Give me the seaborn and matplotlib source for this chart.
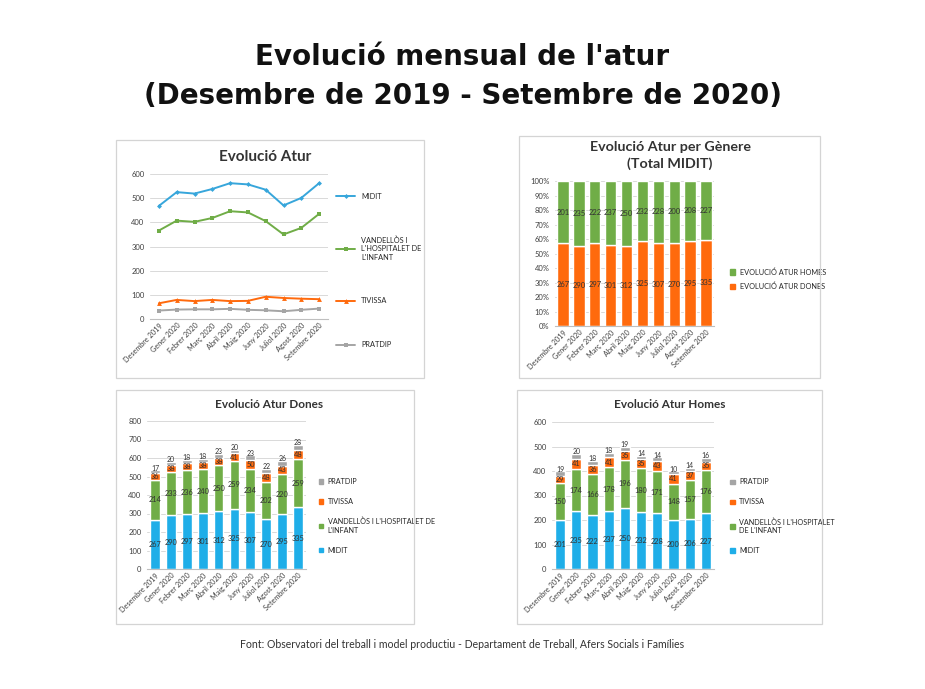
import numpy as np
import pandas as pd
import matplotlib
matplotlib.use("Agg")
import matplotlib.pyplot as plt
from matplotlib.patches import Rectangle
from matplotlib.lines import Line2D
import seaborn as sns

# Months shown on every chart
months = ["Desembre 2019", "Gener 2020", "Febrer 2020", "Març 2020", "Abril 2020",
          "Maig 2020", "Juny 2020", "Juliol 2020", "Agost 2020", "Setembre 2020"]

# Evolució Atur (totals)
total_midit = [468, 525, 519, 538, 562, 557, 535, 470, 501, 562]
total_vandellos = [366, 407, 402, 418, 446, 441, 405, 350, 377, 435]
total_tivissa = [65, 79, 74, 79, 74, 75, 92, 87, 84, 82]
total_pratdip = [35, 39, 40, 40, 42, 38, 36, 32, 38, 43]

# Evolució Atur Dones
dones_midit = [267, 290, 297, 301, 312, 325, 307, 270, 295, 335]
dones_vandellos = [214, 233, 236, 240, 250, 259, 234, 202, 220, 259]
dones_tivissa = [36, 38, 38, 38, 38, 41, 50, 48, 43, 48]
dones_pratdip = [17, 20, 18, 18, 23, 20, 23, 22, 26, 28]

# Evolució Atur Homes
homes_midit = [201, 235, 222, 237, 250, 232, 228, 200, 206, 227]
homes_vandellos = [150, 174, 166, 178, 196, 180, 171, 148, 157, 176]
homes_tivissa = [29, 41, 36, 41, 35, 35, 43, 41, 37, 35]
homes_pratdip = [19, 20, 18, 18, 19, 14, 14, 10, 14, 16]

# Evolució Atur per Gènere (Total MIDIT)
genere_dones = [267, 290, 297, 301, 312, 325, 307, 270, 295, 335]
genere_homes = [201, 235, 222, 237, 250, 232, 228, 200, 208, 227]

BLUE = "#1FAEE8"
LINE_BLUE = "#37A6DB"
GREEN = "#70AD47"
ORANGE = "#FF6A0D"
GRAY = "#A5A5A5"

sns.set_style("white")
plt.rcParams["font.family"] = ["Lato", "DejaVu Sans"]

W, H = 925, 689
fig = plt.figure(figsize=(W / 100, H / 100), dpi=100)
fig.patch.set_facecolor("white")


def px_axes(l, t, r, b):
    return fig.add_axes([l / W, 1 - b / H, (r - l) / W, (b - t) / H])


def panel(l, t, r, b):
    fig.patches.append(Rectangle((l / W, 1 - b / H), (r - l) / W, (b - t) / H,
                                 transform=fig.transFigure, fill=False,
                                 edgecolor="#d4d4d4", lw=0.9))


def style_axes(ax, ymax, step, pct=False):
    ax.set_ylim(0, ymax)
    ax.set_yticks(np.arange(0, ymax + step / 2, step))
    if pct:
        ax.set_yticklabels([f"{int(round(v * 100))}%" for v in ax.get_yticks()])
    ax.yaxis.grid(True, color="#d9d9d9", lw=0.7)
    ax.set_axisbelow(True)
    for s in ["top", "right", "left"]:
        ax.spines[s].set_visible(False)
    ax.spines["bottom"].set_color("#bfbfbf")
    ax.tick_params(axis="y", labelsize=5.5, length=0, pad=4, colors="#404040")
    ax.tick_params(axis="x", labelsize=5.2, length=0, pad=2, colors="#404040")
    for lab in ax.get_xticklabels():
        lab.set_rotation(45)
        lab.set_ha("right")
        lab.set_rotation_mode("anchor")
    ax.set_xlabel("")
    ax.set_ylabel("")


# Main title and footer
fig.text(0.5, 1 - 57 / H, "Evolució mensual de l'atur", ha="center", va="center",
         fontsize=20, fontweight="bold", family="DejaVu Sans", color="#111111")
fig.text(0.5, 1 - 96 / H, "(Desembre de 2019 - Setembre de 2020)", ha="center", va="center",
         fontsize=20, fontweight="bold", family="DejaVu Sans", color="#111111")
fig.text(0.5, 1 - 645 / H,
         "Font: Observatori del treball i model productiu - Departament de Treball, Afers Socials i Famílies",
         ha="center", va="center", fontsize=7.6, color="#333333")

# Panel frames
panel(116, 140, 424, 378)
panel(519, 136, 820, 378)
panel(116, 390, 414, 624)
panel(517, 390, 822, 624)

# ---- Evolució Atur (lines)
ax1 = px_axes(150, 174, 328, 319)
df_tot = pd.DataFrame({"mes": months, "MIDIT": total_midit,
                       "VANDELLÒS I\nL'HOSPITALET DE\nL'INFANT": total_vandellos,
                       "TIVISSA": total_tivissa, "PRATDIP": total_pratdip})
line_styles = [("MIDIT", LINE_BLUE, "D", 2.5), ("VANDELLÒS I\nL'HOSPITALET DE\nL'INFANT", GREEN, "s", 3.5),
               ("TIVISSA", ORANGE, "^", 3.5), ("PRATDIP", GRAY, "s", 3)]
handles = []
for name, col, mk, ms in line_styles:
    sns.lineplot(data=df_tot, x="mes", y=name, color=col, marker=mk, markersize=ms,
                 markeredgewidth=0, lw=1.4, sort=False, ax=ax1)
    handles.append(Line2D([], [], color=col, marker=mk, markersize=ms, markeredgewidth=0, lw=1.4))
ax1.set_xlim(-0.5, len(months) - 0.5)
style_axes(ax1, 600, 100)
ax1.legend(handles, [s[0] for s in line_styles], loc="upper left", bbox_to_anchor=(1.03, 0.89),
           frameon=False, fontsize=5.3, labelspacing=5.0, handlelength=2.6, borderaxespad=0)
fig.text(265 / W, 1 - 157 / H, "Evolució Atur", ha="center", va="center",
         fontsize=11, fontweight="bold", color="#333333")

# ---- Evolució Atur per Gènere (100% stacked)
ax2 = px_axes(555, 181, 714, 326)
tot_g = np.array(genere_dones) + np.array(genere_homes)
pct_d = np.array(genere_dones) / tot_g
pct_h = np.array(genere_homes) / tot_g
sns.barplot(x=months, y=pct_d, color=ORANGE, width=0.72, saturation=1, ax=ax2)
sns.barplot(x=months, y=pct_h, bottom=pct_d, color=GREEN, width=0.72, saturation=1, ax=ax2)
ax2.bar_label(ax2.containers[0], labels=[str(v) for v in genere_dones], label_type="center",
              fontsize=5.5, color="#333333")
ax2.bar_label(ax2.containers[1], labels=[str(v) for v in genere_homes], label_type="center",
              fontsize=5.5, color="#333333")
style_axes(ax2, 1.0, 0.1, pct=True)
ax2.legend([Rectangle((0, 0), 1, 1, color=GREEN), Rectangle((0, 0), 1, 1, color=ORANGE)],
           ["EVOLUCIÓ ATUR HOMES", "EVOLUCIÓ ATUR DONES"], loc="center left",
           bbox_to_anchor=(1.06, 0.325), frameon=False, fontsize=5.3, handlelength=0.7,
           handleheight=0.7, labelspacing=0.9, handletextpad=0.6)
fig.text(670 / W, 1 - 147 / H, "Evolució Atur per Gènere", ha="center", va="center",
         fontsize=10.3, fontweight="bold", color="#333333")
fig.text(670 / W, 1 - 164 / H, "(Total MIDIT)", ha="center", va="center",
         fontsize=10.3, fontweight="bold", color="#333333")


def stacked(ax, layers, ymax):
    bottom = np.zeros(len(months))
    for vals, col in layers:
        sns.barplot(x=months, y=vals, bottom=bottom.copy(), color=col, width=0.62,
                    saturation=1, ax=ax)
        bottom = bottom + np.array(vals)
    conts = ax.containers
    for cont, (vals, col) in zip(conts[:-1], layers[:-1]):
        ax.bar_label(cont, labels=[str(v) for v in vals], label_type="center",
                     fontsize=5.3, color="#333333")
    # the thin top layer gets its label on the top edge
    ax.bar_label(conts[-1], labels=[str(v) for v in layers[-1][0]], label_type="edge",
                 padding=-1, fontsize=5.0, color="#333333")
    style_axes(ax, ymax, 100)


legend_cols = [GRAY, ORANGE, GREEN, BLUE]

# ---- Evolució Atur Dones
ax3 = px_axes(147, 421, 306, 569)
stacked(ax3, [(dones_midit, BLUE), (dones_vandellos, GREEN),
              (dones_tivissa, ORANGE), (dones_pratdip, GRAY)], 800)
ax3.legend([Rectangle((0, 0), 1, 1, color=c) for c in legend_cols],
           ["PRATDIP", "TIVISSA", "VANDELLÒS I L'HOSPITALET DE\nL'INFANT", "MIDIT"],
           loc="upper left", bbox_to_anchor=(1.04, 0.66), frameon=False, fontsize=5.2,
           handlelength=0.6, handleheight=0.6, labelspacing=1.8, handletextpad=0.6)
fig.text(269 / W, 1 - 405 / H, "Evolució Atur Dones", ha="center", va="center",
         fontsize=8.5, fontweight="bold", color="#333333")

# ---- Evolució Atur Homes
ax4 = px_axes(552, 422, 714, 569)
stacked(ax4, [(homes_midit, BLUE), (homes_vandellos, GREEN),
              (homes_tivissa, ORANGE), (homes_pratdip, GRAY)], 600)
ax4.legend([Rectangle((0, 0), 1, 1, color=c) for c in legend_cols],
           ["PRATDIP", "TIVISSA", "VANDELLÒS I L'HOSPITALET\nDE L'INFANT", "MIDIT"],
           loc="upper left", bbox_to_anchor=(1.06, 0.66), frameon=False, fontsize=5.2,
           handlelength=0.6, handleheight=0.6, labelspacing=1.8, handletextpad=0.6)
fig.text(670 / W, 1 - 405 / H, "Evolució Atur Homes", ha="center", va="center",
         fontsize=8.5, fontweight="bold", color="#333333")

fig.savefig("out.png", dpi=100, facecolor="white")
